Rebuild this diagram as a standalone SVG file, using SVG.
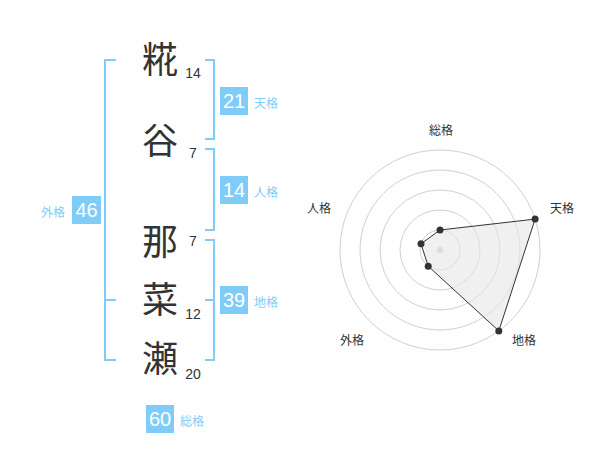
<svg xmlns="http://www.w3.org/2000/svg" width="600" height="470" viewBox="0 0 600 470">
<style>
.ch{font-family:"Noto Sans CJK JP","Noto Sans CJK SC",sans-serif;font-size:36px;fill:#333;text-anchor:middle}
.st{font-family:"Liberation Sans",Arial,sans-serif;font-size:14px;fill:#333;text-anchor:middle}
.br{fill:none;stroke:#80ccf8;stroke-width:2}
.bx{fill:#80ccf8}
.bn{font-family:"Liberation Sans",Arial,sans-serif;font-size:20px;fill:#fff;text-anchor:middle}
.lb{font-family:"Noto Sans CJK JP","Noto Sans CJK SC",sans-serif;font-size:12px;fill:#80ccf8}
.ring{fill:none;stroke:#d0d0d0;stroke-width:1}
.rl{font-family:"Noto Sans CJK JP","Noto Sans CJK SC",sans-serif;font-size:12px;fill:#333;text-anchor:middle}
.pt{fill:#333}
</style>
<rect width="600" height="470" fill="#fff"/>
<g id="chars">
<text class="ch" x="160" y="73">糀</text>
<text class="ch" x="160" y="154">谷</text>
<text class="ch" x="160" y="255">那</text>
<text class="ch" x="160" y="313">菜</text>
<text class="ch" x="160" y="372">瀬</text>
</g>
<g id="strokes">
<text class="st" x="193" y="78">14</text>
<text class="st" x="193" y="158">7</text>
<text class="st" x="193" y="246">7</text>
<text class="st" x="193" y="319">12</text>
<text class="st" x="193" y="379">20</text>
</g>
<g id="connectors">
<path class="br" d="M116 60H105V360H116M105 300H116"/>
<path class="br" d="M205 60H214V139H205"/>
<path class="br" d="M205 149H214V230H205"/>
<path class="br" d="M205 240H214V360H205M205 300H214"/>
</g>
<g id="tenkaku">
<rect class="bx" x="220" y="87" width="28" height="28"/>
<text class="bn" x="234" y="108">21</text>
<text class="lb" x="254" y="108">天格</text>
</g>
<g id="jinkaku">
<rect class="bx" x="220" y="176" width="28" height="28"/>
<text class="bn" x="234" y="197">14</text>
<text class="lb" x="254" y="197">人格</text>
</g>
<g id="chikaku">
<rect class="bx" x="220" y="286" width="28" height="28"/>
<text class="bn" x="234" y="307">39</text>
<text class="lb" x="254" y="307">地格</text>
</g>
<g id="gaikaku">
<rect class="bx" x="72" y="196" width="29" height="28"/>
<text class="bn" x="86.5" y="217">46</text>
<text class="lb" x="41" y="217">外格</text>
</g>
<g id="soukaku">
<rect class="bx" x="146" y="405" width="28" height="28"/>
<text class="bn" x="160" y="426">60</text>
<text class="lb" x="180" y="426">総格</text>
</g>
<g id="radar">
<circle class="ring" cx="440" cy="250" r="20"/>
<circle class="ring" cx="440" cy="250" r="40"/>
<circle class="ring" cx="440" cy="250" r="60"/>
<circle class="ring" cx="440" cy="250" r="80"/>
<circle class="ring" cx="440" cy="250" r="100"/>
<circle cx="440" cy="250" r="3" fill="#ccc"/>
<polygon points="440,230 535.1,219.1 498.8,330.9 428.2,266.2 421,243.8" fill="#e6e6e6" fill-opacity="0.6" stroke="#333" stroke-width="1"/>
<circle class="pt" cx="440" cy="230" r="3.5"/>
<circle class="pt" cx="535.1" cy="219.1" r="3.5"/>
<circle class="pt" cx="498.8" cy="330.9" r="3.5"/>
<circle class="pt" cx="428.2" cy="266.2" r="3.5"/>
<circle class="pt" cx="421" cy="243.8" r="3.5"/>
<text class="rl" x="441" y="135">総格</text>
<text class="rl" x="562" y="213">天格</text>
<text class="rl" x="319" y="213">人格</text>
<text class="rl" x="352" y="345">外格</text>
<text class="rl" x="524" y="345">地格</text>
</g>
</svg>
